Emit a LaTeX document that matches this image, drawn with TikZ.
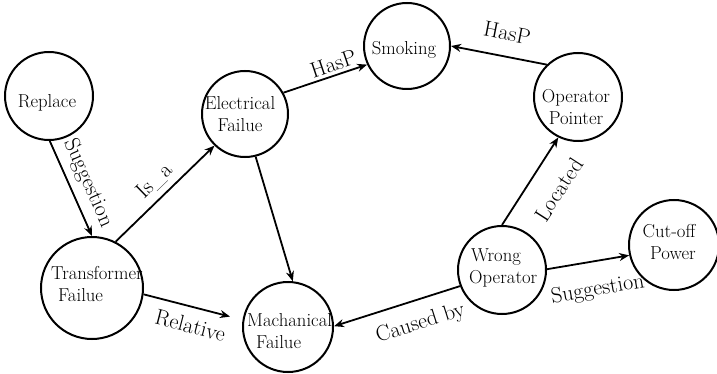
\documentclass[tikz,border=0pt]{standalone}
\usetikzlibrary{arrows.meta}
\begin{document}
\begin{tikzpicture}[x=1pt,y=-1pt,
  state/.style={circle,draw,line width=2pt,inner sep=0pt,minimum size=#1},
  txt/.style={inner sep=0pt,font=\fontsize{18.7}{22}\selectfont},
  lbl/.style={font=\fontsize{22}{26}\selectfont,sloped,inner sep=2pt},
  arr/.style={line width=1.8pt,-{Stealth[length=10pt,width=8pt]}},
  rarr/.style={line width=1.8pt,{Stealth[length=10pt,width=8pt]}-}]
\useasboundingbox (0,0) rectangle (717,374);
% circles
\node[state=88pt] (rep) at (49,96) {};
\node[state=102pt] (tra) at (92,288) {};
\node[state=86pt] (ele) at (245,114) {};
\node[state=86pt] (smk) at (407,46) {};
\node[state=88pt] (opp) at (578,97) {};
\node[state=88pt] (wro) at (502,270) {};
\node[state=90pt] (cut) at (674,245) {};
\node[state=90pt] (mach) at (288,327) {};
% texts
\node[txt] (repT) at (47,103) {Replace};
\node[txt,align=left,anchor=west] (traT) at (51,284) {Transformer\\\hspace{7pt}Failue};
\node[txt,align=center] (eleT) at (240,114) {Electrical\\Failue};
\node[txt] (smkT) at (404,50) {Smoking};
\node[txt,align=center] (oppT) at (576,107) {Operator\\Pointer};
\node[txt,align=left,anchor=west] (wroT) at (469,268) {\hspace{2pt}Wrong\\Operator};
\node[txt,align=center] (cutT) at (669,242) {Cut-off\\\hspace{8pt}Power};
\node[txt,align=left,anchor=west] (machT) at (247,331) {Machanical\\\hspace{9pt}Failue};
% connectors
\draw[arr] (rep.-89) -- node[lbl,pos=0.52,above=5pt] (l1) {Suggestion} (tra.90);
\draw[arr] (tra.63) -- node[lbl,pos=0.51,above=4pt] (l2) {Is\_a} (ele.226);
\draw[arr] (ele.29) -- node[lbl,pos=0.64,above=1pt] (l3) {HasP} (smk.205);
\draw[rarr] (smk.0) -- node[lbl,pos=0.54,above=13pt] (l4) {HasP} (opp.134);
\draw[arr] (ele.-76) -- (mach.84);
\draw[arr,shorten >=13pt] (tra.-7) -- node[lbl,pos=0.52,below=8pt] (l6) {Relative} (mach.171);
\draw[rarr] (mach.1) -- node[lbl,pos=0.63,below=11pt] (l7) {Caused by} (wro.201);
\draw[arr] (wro.90) -- node[lbl,pos=0.58,below=18pt] (l8) {Located} (opp.244);
\draw[arr] (wro.1) -- node[lbl,pos=0.56,below=16pt] (l9) {Suggestion} (cut.193);
\end{tikzpicture}
\end{document}
